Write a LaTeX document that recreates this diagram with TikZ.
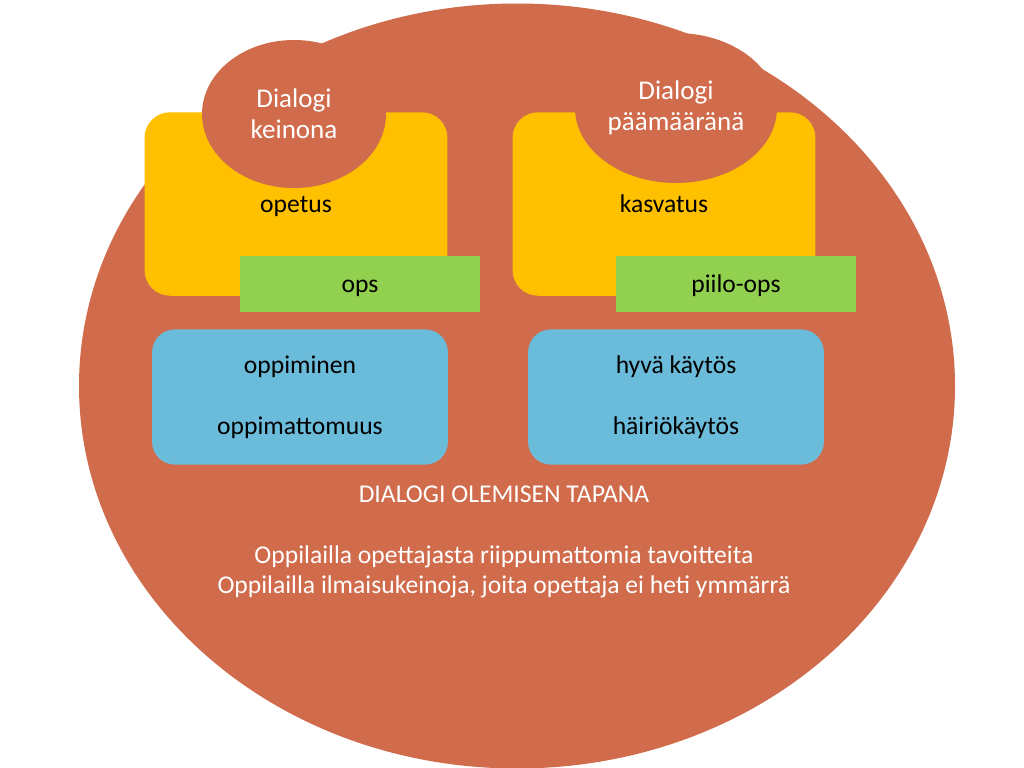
\documentclass[tikz,border=0pt]{standalone}
\usepackage{fontspec}
\setmainfont{Carlito}
\usetikzlibrary{shapes.geometric}
\definecolor{clay}{RGB}{208,107,76}
\definecolor{sun}{RGB}{255,192,0}
\definecolor{leaf}{RGB}{146,208,80}
\definecolor{sky}{RGB}{106,188,218}
\tikzset{
  px/.style={x=0.703pt, y=-0.703pt},
  panel/.style={fill=sun, rounded corners=18pt, minimum width=213pt, minimum height=129pt, text height=1.25em, text depth=0pt, font=\fontsize{18}{22}\selectfont},
  tag/.style={fill=leaf, minimum width=169pt, minimum height=39pt, text height=1.2em, text depth=0pt, font=\fontsize{18}{22}\selectfont},
  learnbox/.style={fill=sky, rounded corners=16pt, minimum width=208pt, minimum height=95pt, align=center, font=\fontsize{18}{43}\selectfont},
  bump/.style={ellipse, fill=clay, inner sep=0pt, text=white, align=center, font=\fontsize{19}{22}\selectfont},
  note/.style={text=white, align=center, font=\fontsize{18}{21}\selectfont}
}
\begin{document}
\begin{tikzpicture}[px]
    \def\px{0.703pt}
    \useasboundingbox (0,0) rectangle (1024,768);
    % Big ellipse
    \node[ellipse, fill=clay, inner sep=0pt, minimum width=876*\px, minimum height=765*\px] (whole) at (517,386) {};
    % Yellow panels
    \node[panel] (opetus) at (296,204) {opetus};
    \node[panel] (kasvatus) at (664,204) {kasvatus};
    % Bumps on top
    \node[bump, minimum width=184*\px, minimum height=148*\px] (keinona) at (294,114) {Dialogi\\keinona};
    \node[bump, minimum width=202*\px, minimum height=150*\px] (paamaara) at (676,108) {Dialogi\\päämääränä};
    % Green tags
    \node[tag] (ops) at (360,284) {ops};
    \node[tag] (piilo) at (736,284) {piilo-ops};
    % Blue boxes
    \node[learnbox] (oppiminen) at (300,397) {oppiminen\\oppimattomuus};
    \node[learnbox] (kaytos) at (676,397) {hyvä käytös\\häiriökäytös};
    % Texts below
    \node[note] (tapana) at (504,494) {DIALOGI OLEMISEN TAPANA};
    \node[note] (tavoite) at (504,572) {Oppilailla opettajasta riippumattomia tavoitteita\\Oppilailla ilmaisukeinoja, joita opettaja ei heti ymmärrä};
\end{tikzpicture}
\end{document}
